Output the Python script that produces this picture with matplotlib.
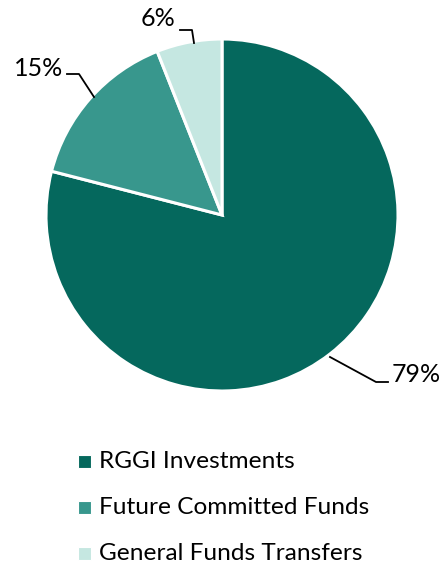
import matplotlib
matplotlib.use("Agg")
import matplotlib.pyplot as plt
from matplotlib.patches import Rectangle

categories = ["RGGI Investments", "Future Committed Funds", "General Funds Transfers"]
values = [79, 15, 6]
pct_labels = ["79%", "15%", "6%"]
colors = ["#05685D", "#38978D", "#C5E7E1"]

W, H = 448, 567
DPI = 100
FONT = "Lato"

fig = plt.figure(figsize=(W / DPI, H / DPI), dpi=DPI)

def fx(px):
    return px / W

def fy(py):
    return 1 - py / H

cx, cy, r = 222, 215, 176
ax = fig.add_axes([fx(cx - r), fy(cy + r), 2 * r / W, 2 * r / H])
ax.pie(values, colors=colors, startangle=90, counterclock=False,
       wedgeprops=dict(edgecolor="white", linewidth=2.2))
ax.set_xlim(-1, 1)
ax.set_ylim(-1, 1)
ax.set_aspect("equal")
ax.axis("off")

# leader lines (pixel positions) and label text positions
leaders = [
    [(330, 357), (376, 382), (388, 382)],
    [(94, 97), (79, 74), (67, 74)],
    [(194, 43), (192, 30), (180, 30)],
]
text_pos = [(392, 375, "left"), (63, 69, "right"), (175, 18, "right")]
for pts, (tx, ty, ha), lab in zip(leaders, text_pos, pct_labels):
    xs = [fx(p[0]) for p in pts]
    ys = [fy(p[1]) for p in pts]
    fig.add_artist(plt.Line2D(xs, ys, color="black", linewidth=1.3,
                              transform=fig.transFigure))
    fig.text(fx(tx), fy(ty), lab, ha=ha, va="center", fontsize=18,
             family=FONT, color="black")

# legend
rows_y = [461, 507, 553]
sq = 13
for cat, col, ry in zip(categories, colors, rows_y):
    fig.add_artist(Rectangle((fx(78), fy(ry + sq / 2)), sq / W, sq / H,
                             facecolor=col, edgecolor="white", linewidth=0.8,
                             transform=fig.transFigure))
    fig.text(fx(99), fy(ry), cat, ha="left", va="center", fontsize=17.6,
             family=FONT, color="black")

fig.savefig("out.png", dpi=DPI)
